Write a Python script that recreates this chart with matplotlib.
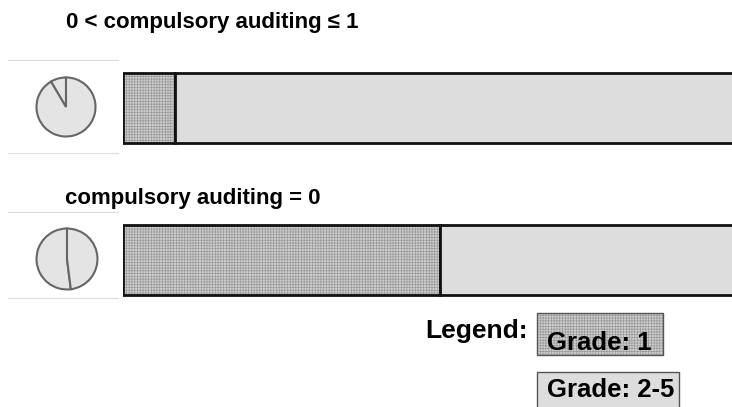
import numpy as np
import matplotlib
matplotlib.use('Agg')
import matplotlib.pyplot as plt
from matplotlib.patches import Rectangle
from matplotlib.lines import Line2D

plt.rcParams['font.family'] = ['Liberation Sans', 'DejaVu Sans']
plt.rcParams['hatch.linewidth'] = 0.5

#%% data

titles = ['0 < compulsory auditing \u2264 1', 'compulsory auditing = 0']
grade1_share = [0.085, 0.52]
legend_labels = ['Grade: 1', 'Grade: 2-5']

#%% style

W, H = 732, 407
c_g1 = '#cdcdcd'
c_hatch = '#9a9a9a'
c_rest = '#dddddd'
c_pie = '#e4e4e4'

fig = plt.figure(figsize=(W / 100, H / 100), dpi=100)
fig.patch.set_facecolor('white')

# overlay axes in pixel coords for texts / legend / icon frames
ov = fig.add_axes([0, 0, 1, 1])
ov.set_xlim(0, W)
ov.set_ylim(H, 0)
ov.axis('off')

# bars
ax = fig.add_axes([123 / W, 0, 1 - 123 / W, 1])
ax.set_xlim(0, 1)
ax.set_ylim((H - 108) / 152, -108 / 152)
ax.axis('off')
ypos = np.arange(len(grade1_share))
g1 = np.array(grade1_share)
rest = 1.05 - g1
ax.barh(ypos, g1, height=0.46, color=c_g1, edgecolor=c_hatch, hatch='++++++', linewidth=0)
ax.barh(ypos, g1, height=0.46, fill=False, edgecolor='#111111', linewidth=2)
ax.barh(ypos, rest, left=g1, height=0.46, color=c_rest, edgecolor='#111111', linewidth=2)

# pies
pie_pos = [(66, 107, 31), (67, 259, 32)]
for (cx, cy, r), share in zip(pie_pos, grade1_share):
    pa = fig.add_axes([(cx - r) / W, (H - cy - r) / H, 2 * r / W, 2 * r / H])
    pa.pie([share, 1 - share], startangle=90, counterclock=True,
           colors=[c_pie, c_pie],
           wedgeprops=dict(edgecolor='#666666', linewidth=1.5))
    pa.set_xlim(-1.05, 1.05)
    pa.set_ylim(-1.05, 1.05)
    pa.axis('off')

# faint frame lines around pie icons
for y0, y1 in [(60, 153), (212, 298)]:
    ov.add_line(Line2D([8, 118], [y0, y0], color='#dddddd', lw=0.8))
    ov.add_line(Line2D([8, 118], [y1, y1], color='#dddddd', lw=0.8))

# titles
ov.text(66, 28, titles[0], fontsize=16, fontweight='bold', va='baseline', ha='left')
ov.text(65, 204, titles[1], fontsize=16, fontweight='bold', va='baseline', ha='left')

# legend
ov.text(425, 338, 'Legend:', fontsize=19, fontweight='bold', va='baseline', ha='left')
boxes = [(537, 313, 126, 42), (537, 372, 142, 50)]
baselines = [350, 397]
for (bx, by, bw, bh), lab, yb, i in zip(boxes, legend_labels, baselines, range(2)):
    if i == 0:
        ov.add_patch(Rectangle((bx, by), bw, bh, facecolor=c_g1, edgecolor=c_hatch,
                               hatch='++++++', linewidth=0))
        ov.add_patch(Rectangle((bx, by), bw, bh, fill=False, edgecolor='#555555', linewidth=1))
    else:
        ov.add_patch(Rectangle((bx, by), bw, bh, facecolor=c_rest, edgecolor='#555555', linewidth=1))
    ov.text(bx + 10, yb, lab, fontsize=18.5, fontweight='bold', va='baseline', ha='left')

fig.savefig('out.png', dpi=100)
